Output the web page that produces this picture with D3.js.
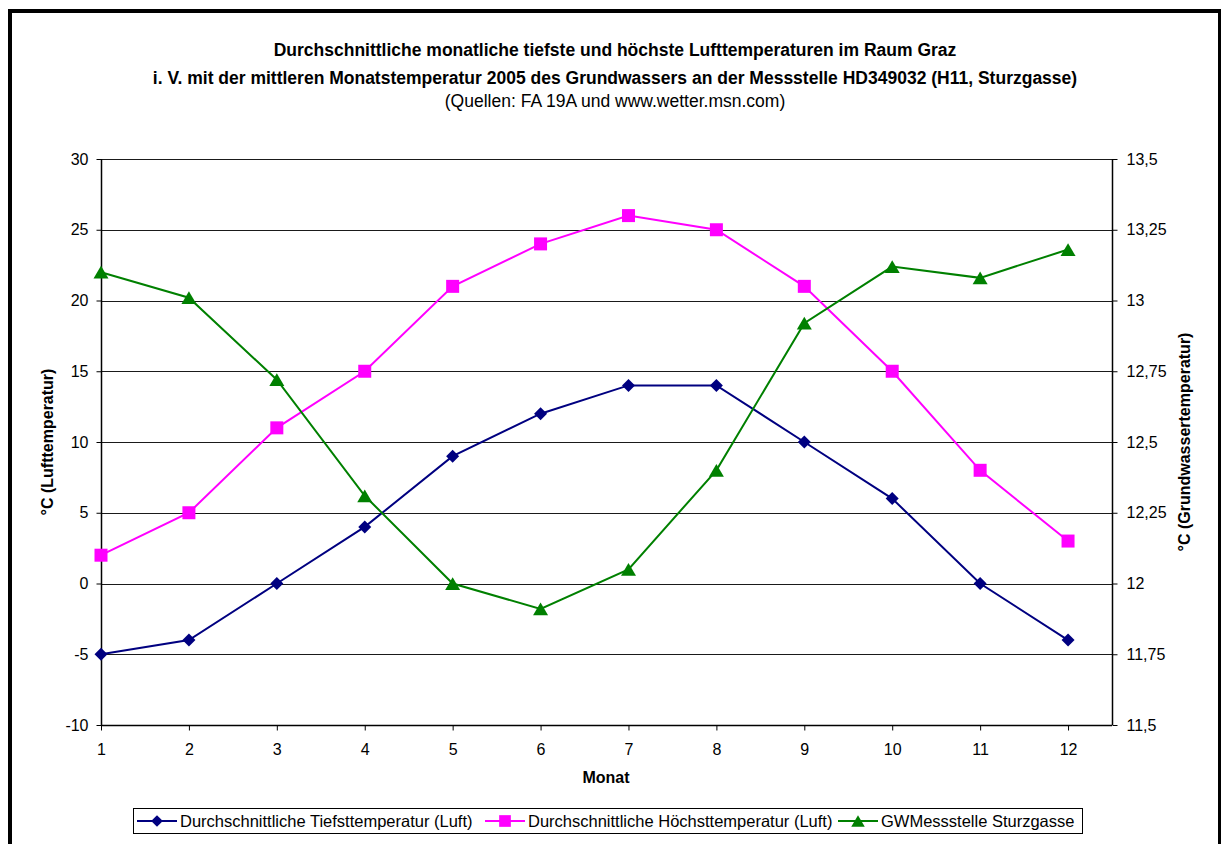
<!DOCTYPE html>
<html>
<head>
<meta charset="utf-8">
<script src="https://cdn.jsdelivr.net/npm/d3@7"></script>
<style>
  html, body { margin: 0; padding: 0; background: #fff; }
  svg { display: block; font-family: "Liberation Sans", Arial, sans-serif; }
</style>
</head>
<body>
<svg id="chart" width="1221" height="844"></svg>
<script>
// Monthly values (month 1..12)
const months = [1, 2, 3, 4, 5, 6, 7, 8, 9, 10, 11, 12];
const tiefst = [-5, -4, 0, 4, 9, 12, 14, 14, 10, 6, 0, -4];
const hoechst = [2, 5, 11, 15, 21, 24, 26, 25, 21, 15, 8, 3];
const grundwasser = [13.10, 13.01, 12.72, 12.31, 12.00, 11.91, 12.05, 12.40, 12.92, 13.12, 13.08, 13.18];

const leftTicks = [-10, -5, 0, 5, 10, 15, 20, 25, 30];
const rightTicks = [11.5, 11.75, 12, 12.25, 12.5, 12.75, 13, 13.25, 13.5];

const titleLines = [
  "Durchschnittliche monatliche tiefste und höchste Lufttemperaturen im Raum Graz",
  "i. V. mit der mittleren Monatstemperatur 2005 des Grundwassers an der Messstelle HD349032 (H11, Sturzgasse)"
];
const subtitle = "(Quellen: FA 19A und www.wetter.msn.com)";
const seriesNames = [
  "Durchschnittliche Tiefsttemperatur (Luft)",
  "Durchschnittliche Höchsttemperatur (Luft)",
  "GWMessstelle Sturzgasse"
];

const svg = d3.select("#chart");
const W = 1221, H = 844;
const plot = { left: 101, right: 1112, top: 159, bottom: 725 };

// outer frame (open at the bottom)
svg.append("path")
  .attr("d", `M10,${H} V11 H1220 V${H}`)
  .attr("fill", "none").attr("stroke", "#000").attr("stroke-width", 4);

// titles
const tcx = 615;
titleLines.forEach((t, i) => {
  svg.append("text").attr("x", tcx).attr("y", 56 + i * 28)
    .attr("text-anchor", "middle").attr("font-size", 17.5).attr("font-weight", "bold")
    .text(t);
});
svg.append("text").attr("x", tcx).attr("y", 107)
  .attr("text-anchor", "middle").attr("font-size", 17.5).text(subtitle);

// scales
const x = d3.scaleLinear().domain([1, 12.5]).range([plot.left, plot.right]);
const yL = d3.scaleLinear().domain([-10, 30]).range([plot.bottom, plot.top]);
const yR = d3.scaleLinear().domain([11.5, 13.5]).range([plot.bottom, plot.top]);

// gridlines
svg.append("g").selectAll("line").data(leftTicks.filter(v => v > -10)).join("line")
  .attr("x1", plot.left).attr("x2", plot.right)
  .attr("y1", d => Math.round(yL(d)) + 0.5).attr("y2", d => Math.round(yL(d)) + 0.5)
  .attr("stroke", "#1a1a1a").attr("stroke-width", 1);

const fmtR = d => String(d).replace(".", ",");

// axes
const axL = svg.append("g").attr("transform", `translate(${plot.left + 0.5},0)`)
  .call(d3.axisLeft(yL).tickValues(leftTicks).tickSize(5).tickPadding(8).tickFormat(d3.format("d")));
const axR = svg.append("g").attr("transform", `translate(${plot.right + 0.5},0)`)
  .call(d3.axisRight(yR).tickValues(rightTicks).tickSize(5).tickPadding(9).tickFormat(fmtR));
const axB = svg.append("g").attr("transform", `translate(0,${plot.bottom + 0.5})`)
  .call(d3.axisBottom(x).tickValues(months).tickSize(5).tickPadding(13).tickFormat(d3.format("d")));

[axL, axR, axB].forEach(g => {
  g.select(".domain").attr("stroke", "#000").attr("stroke-width", 1.5);
  g.selectAll(".tick line").attr("stroke", "#000");
  g.selectAll(".tick text").attr("font-size", 16)
    .attr("font-family", "'Liberation Sans', Arial, sans-serif").attr("fill", "#000");
});
// plain hyphen for negative labels
axL.selectAll(".tick text").text(d => String(d));
axL.select(".domain").attr("d", `M0,${plot.top}V${plot.bottom}`);
axR.select(".domain").attr("d", `M0,${plot.top}V${plot.bottom}`);
axB.select(".domain").attr("d", `M${plot.left},0H${plot.right}`);

// axis titles
svg.append("text").attr("x", 606).attr("y", 783)
  .attr("text-anchor", "middle").attr("font-size", 16).attr("font-weight", "bold").text("Monat");
svg.append("text").attr("transform", `translate(53,${(plot.top + plot.bottom) / 2}) rotate(-90)`)
  .attr("text-anchor", "middle").attr("font-size", 16).attr("font-weight", "bold")
  .text("°C (Lufttemperatur)");
svg.append("text").attr("transform", `translate(1190,${(plot.top + plot.bottom) / 2}) rotate(-90)`)
  .attr("text-anchor", "middle").attr("font-size", 16).attr("font-weight", "bold")
  .text("°C (Grundwassertemperatur)");

// marker shapes
const shapes = {
  diamond: r => `M0,${-r}L${r},0L0,${r}L${-r},0Z`,
  square: r => `M${-r},${-r}H${r}V${r}H${-r}Z`,
  triangle: r => `M0,${-r * 0.85}L${r},${r * 0.85}H${-r}Z`
};

// series
const series = [
  { name: seriesNames[0], values: tiefst, y: yL, color: "#000080", shape: "diamond", r: 6.5 },
  { name: seriesNames[1], values: hoechst, y: yL, color: "#FF00FF", shape: "square", r: 6.5 },
  { name: seriesNames[2], values: grundwasser, y: yR, color: "#008000", shape: "triangle", r: 7.5 }
];

series.forEach(s => {
  const pts = months.map((m, i) => [x(m), s.y(s.values[i])]);
  svg.append("path").datum(pts)
    .attr("d", d3.line())
    .attr("fill", "none").attr("stroke", s.color).attr("stroke-width", 2);
  svg.append("g").selectAll("path").data(pts).join("path")
    .attr("transform", d => `translate(${d[0]},${d[1]})`)
    .attr("d", shapes[s.shape](s.r))
    .attr("fill", s.color);
});

// legend
const lg = svg.append("g");
lg.append("rect").attr("x", 133.5).attr("y", 808.5).attr("width", 949).attr("height", 25)
  .attr("fill", "#fff").attr("stroke", "#000").attr("stroke-width", 1);
const legendX = [137, 485, 838];
series.forEach((s, i) => {
  const gx = legendX[i];
  lg.append("line").attr("x1", gx).attr("x2", gx + 40).attr("y1", 821).attr("y2", 821)
    .attr("stroke", s.color).attr("stroke-width", 2);
  lg.append("path").attr("transform", `translate(${gx + 20},821)`)
    .attr("d", shapes[s.shape](s.r * 0.9)).attr("fill", s.color);
  lg.append("text").attr("x", gx + 43).attr("y", 827).attr("font-size", 16.5).text(s.name);
});
</script>
</body>
</html>
